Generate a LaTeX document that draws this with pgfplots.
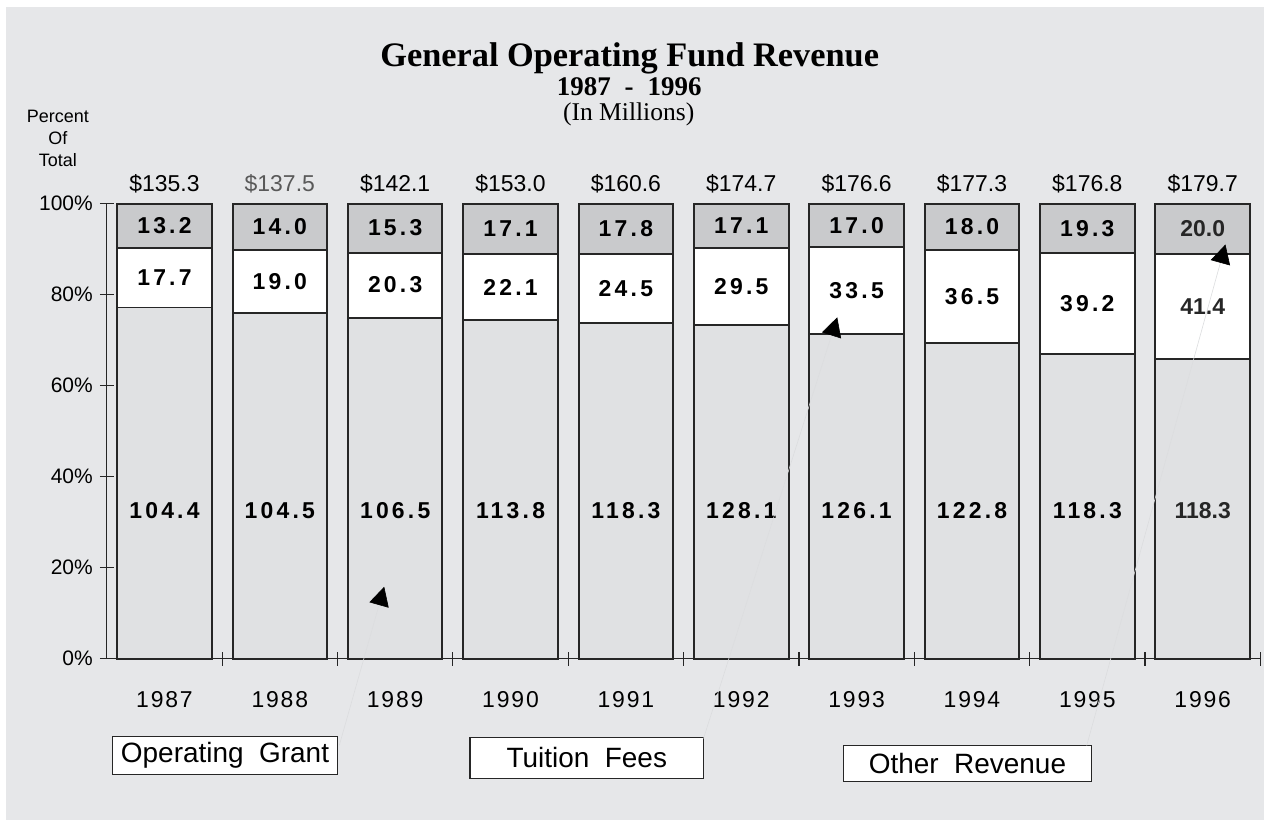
\documentclass[border=0pt]{standalone}
\usepackage{pgfplots}
\pgfplotsset{compat=1.18}
\usepackage{pgfplotstable}
\usepackage{fontspec}
\setmainfont{Liberation Sans}
\newfontfamily\timesf{Liberation Serif}
\newfontfamily\spacedf[LetterSpace=14]{Liberation Sans}
\newfontfamily\yearf[LetterSpace=8]{Liberation Sans}
\usetikzlibrary{arrows.meta}
\definecolor{panel}{RGB}{230,231,233}
\definecolor{grantc}{RGB}{224,225,227}
\definecolor{otherc}{RGB}{201,202,204}
\definecolor{linec}{RGB}{38,38,38}
\definecolor{faint}{RGB}{220,221,223}

\pgfplotstableread{
x grant tuition other total
0 104.4 17.7 13.2 135.3
1 104.5 19.0 14.0 137.5
2 106.5 20.3 15.3 142.1
3 113.8 22.1 17.1 153.0
4 118.3 24.5 17.8 160.6
5 128.1 29.5 17.1 174.7
6 126.1 33.5 17.0 176.6
7 122.8 36.5 18.0 177.3
8 118.3 39.2 19.3 176.8
9 118.3 41.4 20.0 179.7
}\revdata

\begin{document}
\begin{tikzpicture}
\begin{scope}[x=0.5pt,y=-0.5pt]
\path[use as bounding box, fill=white] (0,0) rectangle (1267,822);
\fill[panel] (6,7) rectangle (1267,822);
\node[font=\timesf\bfseries\fontsize{17.2}{20}\selectfont, anchor=base, inner sep=0] at (631,67) {General Operating Fund Revenue};
\node[font=\timesf\bfseries\fontsize{13.5}{16}\selectfont, anchor=base, inner sep=0] at (630.5,96) {1987\hspace{7pt}-\hspace{7pt}1996};
\node[font=\timesf\fontsize{12.8}{15}\selectfont, anchor=base, inner sep=0] at (630,121) {(In Millions)};
\node[font=\fontsize{9}{10}\selectfont, anchor=base, inner sep=0] at (58,123) {Percent};
\node[font=\fontsize{9}{10}\selectfont, anchor=base, inner sep=0] at (58,145) {Of};
\node[font=\fontsize{9}{10}\selectfont, anchor=base, inner sep=0] at (58,167) {Total};
\end{scope}

\begin{axis}[
  at={(53.5pt,-330pt)}, anchor=south west,
  scale only axis, width=578pt, height=228pt,
  xmin=-0.5, xmax=9.5, ymin=0, ymax=100,
  axis lines*=left,
  axis line style={draw=linec, line width=0.7pt},
  clip=false,
  tick align=center,
  major tick length=7pt,
  tick style={draw=linec, line width=0.6pt},
  xtick={0.5,1.5,...,9.5}, xticklabels={},
  extra x ticks={0,1,2,3,4,5,6,7,8,9},
  extra x tick labels={1987,1988,1989,1990,1991,1992,1993,1994,1995,1996},
  extra x tick style={major tick length=0pt, tick label style={font=\yearf\fontsize{11.5}{13}\selectfont, yshift=-13pt}},
  ytick={0,20,40,60,80,100},
  yticklabels={0\%,20\%,40\%,60\%,80\%,100\%},
  yticklabel style={font=\fontsize{10.5}{12}\selectfont},
]
% full bars (other revenue on top)
\addplot[ybar, bar width=0.82, bar shift=0pt, fill=otherc, draw=linec, line width=1pt]
  table[x=x, y expr=(\thisrow{grant}+\thisrow{tuition}+\thisrow{other})/\thisrow{total}*100] {\revdata};
% grant + tuition
\addplot[ybar, bar width=0.82, bar shift=0pt, fill=white, draw=linec, line width=1pt]
  table[x=x, y expr=(\thisrow{grant}+\thisrow{tuition})/\thisrow{total}*100] {\revdata};
% grant
\addplot[ybar, bar width=0.82, bar shift=0pt, fill=grantc, draw=linec, line width=1pt]
  table[x=x, y expr=\thisrow{grant}/\thisrow{total}*100] {\revdata};

% value labels (spaced, 1987-1995)
\addplot[draw=none, mark=none, restrict x to domain=0:8, nodes near coords, point meta=explicit symbolic,
  nodes near coords align=center,
  every node near coord/.append style={font=\spacedf\bfseries\fontsize{11.5}{13}\selectfont, anchor=center, text=black}]
  table[x=x, y expr=32.5, meta=grant] {\revdata};
\addplot[draw=none, mark=none, restrict x to domain=0:8, nodes near coords, point meta=explicit symbolic,
  nodes near coords align=center,
  every node near coord/.append style={font=\spacedf\bfseries\fontsize{11.5}{13}\selectfont, anchor=center, text=black}]
  table[x=x, y expr=(\thisrow{grant}+0.5*\thisrow{tuition})/\thisrow{total}*100, meta=tuition] {\revdata};
\addplot[draw=none, mark=none, restrict x to domain=0:8, nodes near coords, point meta=explicit symbolic,
  nodes near coords align=center,
  every node near coord/.append style={font=\spacedf\bfseries\fontsize{11.5}{13}\selectfont, anchor=center, text=black}]
  table[x=x, y expr=(\thisrow{grant}+\thisrow{tuition}+0.5*\thisrow{other})/\thisrow{total}*100, meta=other] {\revdata};
% value labels 1996 (not spaced)
\addplot[draw=none, mark=none, restrict x to domain=9:9, nodes near coords, point meta=explicit symbolic,
  nodes near coords align=center,
  every node near coord/.append style={font=\bfseries\fontsize{11.5}{13}\selectfont, anchor=center, text=linec}]
  table[x=x, y expr=32.5, meta=grant] {\revdata};
\addplot[draw=none, mark=none, restrict x to domain=9:9, nodes near coords, point meta=explicit symbolic,
  nodes near coords align=center,
  every node near coord/.append style={font=\bfseries\fontsize{11.5}{13}\selectfont, anchor=center, text=linec}]
  table[x=x, y expr=(\thisrow{grant}+0.5*\thisrow{tuition})/\thisrow{total}*100, meta=tuition] {\revdata};
\addplot[draw=none, mark=none, restrict x to domain=9:9, nodes near coords, point meta=explicit symbolic,
  nodes near coords align=center,
  every node near coord/.append style={font=\bfseries\fontsize{11.5}{13}\selectfont, anchor=center, text=linec}]
  table[x=x, y expr=(\thisrow{grant}+\thisrow{tuition}+0.5*\thisrow{other})/\thisrow{total}*100, meta=other] {\revdata};
% totals
\addplot[draw=none, mark=none, restrict x to domain=0:0, nodes near coords={\$\pgfplotspointmeta}, point meta=explicit symbolic,
  nodes near coords align=center,
  every node near coord/.append style={font=\fontsize{11.5}{13}\selectfont, anchor=center, text=black}]
  table[x=x, y expr=(\thisrow{total}*0+104.3), meta=total] {\revdata};
\addplot[draw=none, mark=none, restrict x to domain=1:1, nodes near coords={\$\pgfplotspointmeta}, point meta=explicit symbolic,
  nodes near coords align=center,
  every node near coord/.append style={font=\fontsize{11.5}{13}\selectfont, anchor=center, text=black!65}]
  table[x=x, y expr=(\thisrow{total}*0+104.3), meta=total] {\revdata};
\addplot[draw=none, mark=none, restrict x to domain=2:9, nodes near coords={\$\pgfplotspointmeta}, point meta=explicit symbolic,
  nodes near coords align=center,
  every node near coord/.append style={font=\fontsize{11.5}{13}\selectfont, anchor=center, text=black}]
  table[x=x, y expr=(\thisrow{total}*0+104.3), meta=total] {\revdata};
\end{axis}

\begin{scope}[x=0.5pt,y=-0.5pt]
% legend boxes
\node[draw=linec, line width=0.7pt, fill=white, minimum width=112.5pt, minimum height=19pt, inner sep=0,
  font=\fontsize{14}{16}\selectfont] at (225.5,757) {Operating~~Grant};
\node[draw=linec, line width=0.7pt, fill=white, minimum width=117pt, minimum height=20.5pt, inner sep=0,
  font=\fontsize{14}{16}\selectfont] at (588,759.5) {Tuition~~Fees};
\node[draw=linec, line width=0.7pt, fill=white, minimum width=124.5pt, minimum height=18pt, inner sep=0,
  font=\fontsize{14}{16}\selectfont] at (969.5,765) {Other~~Revenue};
% callout arrows
\draw[faint, line width=0.3pt, -{Triangle[length=9.5pt,width=10pt,color=black]}] (340,747) -- (385,588);
\draw[faint, line width=0.3pt, -{Triangle[length=9.5pt,width=10pt,color=black]}] (705,740) -- (839,318);
\draw[faint, line width=0.3pt, -{Triangle[length=9.5pt,width=10pt,color=black]}] (1089,747) -- (1228,245);
\end{scope}
\end{tikzpicture}
\end{document}
